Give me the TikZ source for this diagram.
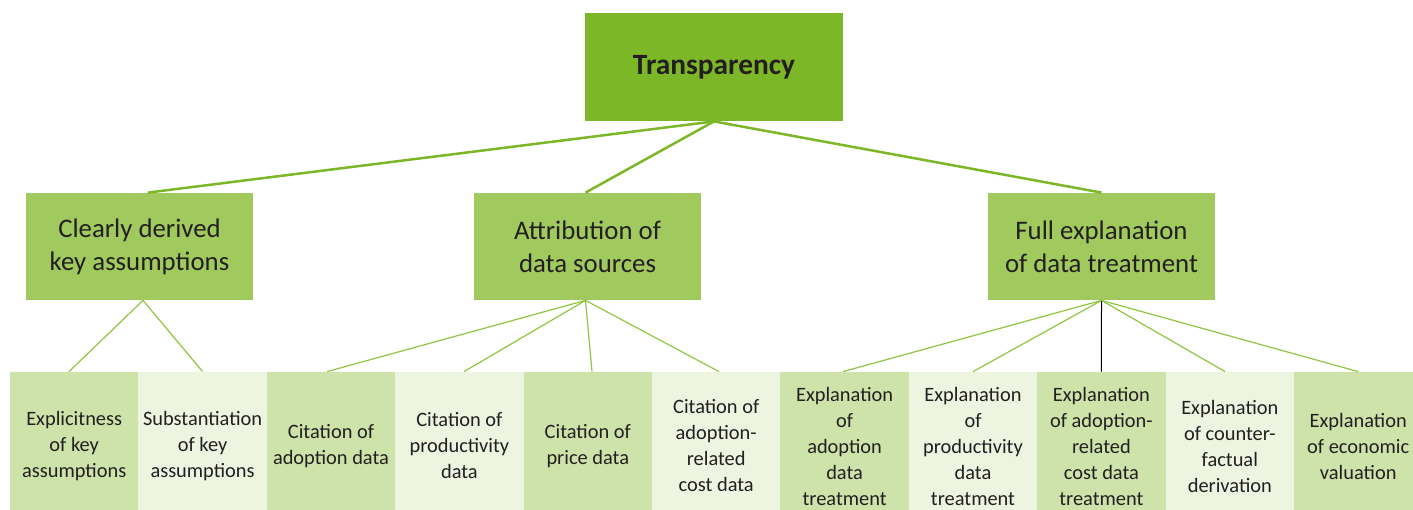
\documentclass[tikz,border=0pt]{standalone}
\usepackage{fontspec}
\setmainfont{Carlito}

\definecolor{topgreen}{HTML}{7CB728}
\definecolor{midgreen}{HTML}{A0CA5E}
\definecolor{lowdark}{HTML}{CDE3AA}
\definecolor{lowlight}{HTML}{EDF4E0}
\definecolor{linegreen}{HTML}{8DC63F}
\definecolor{textgray}{HTML}{231F20}

\tikzset{
	topbox/.style={fill=topgreen, minimum width=129pt, minimum height=54pt, inner sep=0pt,
		text=textgray, font=\fontsize{14.7}{18}\selectfont\bfseries},
	midbox/.style={fill=midgreen, minimum width=113.5pt, minimum height=53.5pt, inner sep=0pt,
		align=center, text=textgray, font=\fontsize{13.4}{16.5}\selectfont},
	lowbox/.style={minimum width=64.2pt, minimum height=74pt, inner sep=0pt,
		align=center, text=textgray, font=\fontsize{10.2}{13}\selectfont},
	lowdarkbox/.style={lowbox, fill=lowdark},
	lowlightbox/.style={lowbox, fill=lowlight},
	topline/.style={draw=topgreen, line width=1.25pt},
	subline/.style={draw=linegreen, line width=0.6pt},
}

\begin{document}
\begin{tikzpicture}[x=0.5pt,y=-0.5pt]
	\useasboundingbox (0,0) rectangle (1413,509);
	
	% top box
	\node[topbox] (transp) at(714,67) {Transparency};
	
	% middle boxes
	\node[midbox] (derived) at(139.5,246.5) {Clearly derived\\key assumptions};
	\node[midbox] (attrib) at(587.5,246.5) {Attribution of\\data sources};
	\node[midbox] (explain) at(1101.5,246.5) {Full explanation\\of data treatment};
	
	% bottom row
	\node[lowdarkbox] (explicit) at(74.2,446) {Explicitness\\of key\\assumptions};
	\node[lowlightbox] (substant) at(202.6,446) {Substantiation\\of key\\assumptions};
	\node[lowdarkbox] (citeadopt) at(331,446) {Citation of\\adoption data};
	\node[lowlightbox] (citeprod) at(459.4,446) {Citation of\\productivity\\data};
	\node[lowdarkbox] (citeprice) at(587.8,446) {Citation of\\price data};
	\node[lowlightbox] (citecost) at(716.2,446) {Citation of\\adoption-\\related\\cost data};
	\node[lowdarkbox] (expadopt) at(844.6,446) {Explanation\\of\\adoption\\data\\treatment};
	\node[lowlightbox] (expprod) at(973,446) {Explanation\\of\\productivity\\data\\treatment};
	\node[lowdarkbox] (expcost) at(1101.4,446) {Explanation\\of adoption-\\related\\cost data\\treatment};
	\node[lowlightbox] (expcounter) at(1229.8,446) {Explanation\\of counter-\\factual\\derivation};
	\node[lowdarkbox] (expecon) at(1358.2,446) {Explanation\\of economic\\valuation};
	
	% connection lines top
	\draw[topline] (transp.south) -- ([xshift=4.25pt]derived.north);
	\draw[topline] (transp.south) -- ([xshift=-1pt]attrib.north);
	\draw[topline] (transp.south) -- (explain.north);
	
	% connection lines middle
	\draw[subline] ([xshift=1.75pt]derived.south) -- ([xshift=-2.6pt]explicit.north);
	\draw[subline] ([xshift=1.75pt]derived.south) -- (substant.north);
	\draw[subline] ([xshift=-1pt]attrib.south) -- ([xshift=-2pt]citeadopt.north);
	\draw[subline] ([xshift=-1pt]attrib.south) -- ([xshift=2.3pt]citeprod.north);
	\draw[subline] ([xshift=-1pt]attrib.south) -- ([xshift=2.1pt]citeprice.north);
	\draw[subline] ([xshift=-1pt]attrib.south) -- ([xshift=1.4pt]citecost.north);
	\draw[subline] (explain.south) -- ([xshift=-0.8pt]expadopt.north);
	\draw[subline] (explain.south) -- (expprod.north);
	\draw[line width=0.5pt] (explain.south) -- (expcost.north);
	\draw[subline] (explain.south) -- ([xshift=-2.4pt]expcounter.north);
	\draw[subline] (explain.south) -- (expecon.north);
	
\end{tikzpicture}
\end{document}
